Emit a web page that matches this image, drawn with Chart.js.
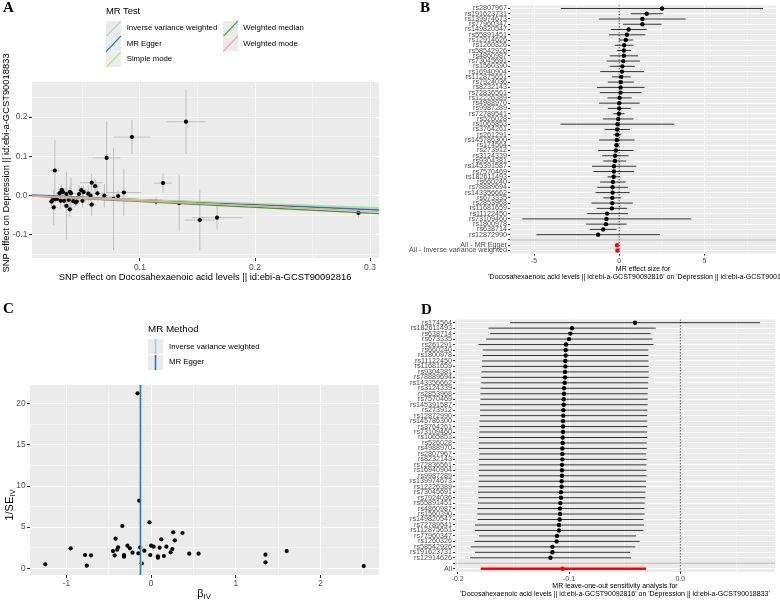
<!DOCTYPE html>
<html><head><meta charset="utf-8">
<script src="https://cdn.jsdelivr.net/npm/chart.js@4.4.1/dist/chart.umd.min.js"></script>
<style>
html,body{margin:0;padding:0;background:#fff;}
body{width:780px;height:602px;position:relative;overflow:hidden;font-family:'Liberation Sans',Arial,Helvetica,sans-serif;}
.panel{position:absolute;}
.panel canvas{display:block;}
.lab{position:absolute;font-family:'Liberation Serif','Times New Roman',serif;font-weight:bold;font-size:15px;line-height:15px;color:#000;}
.t{position:absolute;white-space:nowrap;color:#000;}
.key{position:absolute;}
sub{font-size:70%;vertical-align:-0.25em;line-height:0;}
</style></head>
<body>
<div class="panel" style="left:0;top:0;"><canvas id="cA" width="390" height="300"></canvas></div>
<div class="panel" style="left:390px;top:0;"><canvas id="cB" width="390" height="300"></canvas></div>
<div class="panel" style="left:0;top:300px;"><canvas id="cC" width="390" height="302"></canvas></div>
<div class="panel" style="left:390px;top:300px;"><canvas id="cD" width="390" height="302"></canvas></div>

<div class="lab" style="left:3px;top:0px;">A</div>
<div class="lab" style="left:420px;top:0px;">B</div>
<div class="lab" style="left:3px;top:301px;">C</div>
<div class="lab" style="left:421px;top:302px;">D</div>

<div class="t" style="left:106px;top:5px;font-size:9.4px;line-height:12px;">MR Test</div>
<div id="legA"></div>

<div class="t" style="left:205px;top:277px;font-size:9.4px;line-height:12px;transform:translate(-50%,-50%);">SNP effect on Docosahexaenoic acid levels || id:ebi-a-GCST90092816</div>
<div class="t" style="left:6px;top:163px;font-size:9.4px;line-height:12px;transform:translate(-50%,-50%) rotate(-90deg);">SNP effect on Depression || id:ebi-a-GCST90018833</div>

<div class="t" style="left:443px;top:265px;width:400px;text-align:center;font-size:7px;line-height:8px;">MR effect size for<br>'Docosahexaenoic acid levels || id:ebi-a-GCST90092816' on 'Depression || id:ebi-a-GCST90018833'</div>

<div class="t" style="left:148px;top:323px;font-size:9.8px;line-height:12px;">MR Method</div>
<div id="legC"></div>

<div class="t" style="left:204px;top:593px;font-size:11px;line-height:12px;transform:translate(-50%,-50%);">β<sub>IV</sub></div>
<div class="t" style="left:9px;top:505px;font-size:11px;line-height:12px;transform:translate(-50%,-50%) rotate(-90deg);">1/SE<sub>IV</sub></div>

<div class="t" style="left:415px;top:582px;width:400px;text-align:center;font-size:7px;line-height:8.3px;">MR leave-one-out sensitivity analysis for<br>'Docosahexaenoic acid levels || id:ebi-a-GCST90092816' on 'Depression || id:ebi-a-GCST90018833'</div>

<script>
// ================= DATA =================
// Panel A: SNP scatter (exposure effect vs outcome effect)
const aSnpExposure = [0.026,0.071,0.093,0.140,0.120,0.114,0.134,0.152,0.167,0.290,0.086,0.081,0.077,0.069,0.063,0.061,0.058,0.057,0.058,0.051,0.050,0.049,0.047,0.042,0.045,0.040,0.039,0.039,0.038,0.036,0.036,0.033,0.032,0.031,0.031,0.026,0.025,0.024,0.023,0.044,0.030,0.034,0.055,0.028];
const aSnpOutcome = [0.064,0.096,0.149,0.188,0.032,-0.015,-0.019,-0.062,-0.056,-0.044,0.008,-0.001,-0.008,0.000,0.006,0.024,0.033,0.000,-0.023,0.009,-0.013,0.014,0.004,-0.014,-0.015,0.006,0.010,-0.035,-0.011,-0.026,0.004,0.009,0.015,-0.013,0.008,-0.009,-0.030,-0.011,-0.015,-0.017,0.006,-0.013,0.005,-0.008];
const aSeExposure = [0.004,0.012,0.016,0.017,0.008,0.003,0.004,0.013,0.022,0.004,0.015,0.007,0.004,0.004,0.005,0.004,0.010,0.004,0.004,0.004,0.003,0.004,0.003,0.003,0.003,0.004,0.003,0.003,0.003,0.003,0.003,0.003,0.003,0.003,0.003,0.003,0.003,0.002,0.002,0.003,0.003,0.003,0.004,0.003];
const aSeOutcome = [0.078,0.092,0.043,0.082,0.024,0.012,0.072,0.077,0.030,0.012,0.060,0.015,0.130,0.030,0.020,0.016,0.022,0.012,0.028,0.014,0.018,0.010,0.022,0.010,0.012,0.040,0.014,0.018,0.012,0.087,0.016,0.010,0.012,0.020,0.008,0.010,0.045,0.008,0.012,0.012,0.012,0.010,0.020,0.008];
const aMethods = ['Inverse variance weighted','MR Egger','Simple mode','Weighted median','Weighted mode'];
const aMethodSlopes = [-0.105,-0.128,-0.099,-0.149,-0.132];
const aMethodIntercepts = [0,0.003,0,0,0];
const aXTicks = [0.1,0.2,0.3];
const aXTickLabels = ['0.1','0.2','0.3'];
const aXMinor = [0.05,0.15,0.25];
const aYTicks = [-0.1,0,0.1,0.2];
const aYTickLabels = ['-0.1','0.0','0.1','0.2'];
const aYMinor = [-0.15,-0.05,0.05,0.15,0.25];

// Panel B: single SNP forest plot
const bSnps = ['rs2807967','rs191623731','rs139974673','rs77960347','rs149820547','rs55891451','rs12914626','rs1260326','rs58542926','rs4860987','rs73045691','rs1560390','rs16940904','rs112875651','rs7924036','rs8232143','rs72836561','rs12226389','rs4988970','rs9987289','rs72789541','rs526028','rs1065853','rs3764261','rs261291','rs145786300','rs174564','rs273912','rs3124339','rs9304381','rs145391587','rs7570469','rs182611493','rs660240','rs78889694','rs143356662','rs673335','rs2853968','rs11681659','rs11122450','rs73109460','rs1800978','rs638714','rs12872990'];
const bEstimates = [2.51,1.61,1.36,1.36,0.55,0.45,0.39,0.29,0.27,0.27,0.24,0.18,0.16,0.12,0.10,0.08,0.08,0.02,0.00,0.00,-0.02,-0.06,-0.10,-0.12,-0.12,-0.14,-0.16,-0.20,-0.24,-0.25,-0.31,-0.31,-0.33,-0.37,-0.39,-0.39,-0.41,-0.41,-0.43,-0.71,-0.75,-0.78,-0.94,-1.24];
const bLower = [-3.43,0.67,-1.19,0.22,-0.49,-0.60,-0.04,-0.26,-0.14,-0.55,-0.74,-0.55,-1.12,-0.43,-0.67,-1.31,-1.14,-0.69,-1.18,-0.67,-0.35,-0.96,-3.45,-0.86,-0.35,-1.18,-0.31,-1.24,-1.00,-0.94,-1.60,-1.51,-0.69,-1.12,-1.29,-1.39,-0.94,-1.63,-1.33,-1.88,-5.69,-1.94,-1.73,-4.86];
const bUpper = [8.44,2.55,3.90,2.49,1.61,1.53,0.82,0.84,0.70,1.10,1.22,0.92,1.45,0.67,0.86,1.49,1.31,0.74,1.20,0.67,0.31,0.84,3.23,0.63,0.12,0.90,-0.02,0.84,0.55,0.41,1.00,0.88,0.02,0.37,0.51,0.61,0.12,0.80,0.47,0.51,4.22,0.43,-0.16,2.39];
const bSummaryMethods = ['All - MR Egger','All - Inverse variance weighted'];
const bSummaryEstimates = [-0.13,-0.105];
const bSummaryLower = [-0.22,-0.179];
const bSummaryUpper = [-0.04,-0.031];
const bXTicks = [-5,0,5];
const bXTickLabels = ['-5','0','5'];
const bXMinor = [-2.5,2.5,7.5];

// Panel C: funnel plot
const cBetaIV = [-0.16,-0.14,-0.02,-0.34,-0.42,0.26,0.37,0.12,0.28,-0.95,-0.39,-0.28,-0.25,-0.45,-0.40,-0.13,0.00,0.03,0.10,0.18,0.25,0.23,-0.08,-0.22,-0.15,-0.32,-0.32,-0.43,-0.01,0.08,0.08,0.15,0.45,0.56,-0.78,-0.71,-0.76,-1.25,-0.11,1.35,1.35,1.60,2.51];
const cInvSeIV = [21.26,8.22,5.59,5.14,3.60,4.37,4.29,3.52,3.40,2.43,2.55,2.75,2.43,2.10,2.27,2.55,2.75,2.63,2.51,2.63,2.35,1.94,2.15,1.90,1.82,1.62,1.42,1.58,1.62,1.46,1.30,1.50,1.78,1.78,1.62,1.58,0.32,0.49,0.61,1.66,0.73,2.10,0.28];
const cMethods = ['Inverse variance weighted','MR Egger'];
const cMethodBeta = [-0.117,-0.128];
const cXTicks = [-1,0,1,2];
const cXTickLabels = ['-1','0','1','2'];
const cXMinor = [-0.5,0.5,1.5,2.5];
const cYTicks = [0,5,10,15,20];
const cYTickLabels = ['0','5','10','15','20'];
const cYMinor = [2.5,7.5,12.5,17.5];

// Panel D: leave-one-out
const dSnps = ['rs174564','rs182611493','rs638714','rs673335','rs261291','rs660240','rs1800978','rs11122450','rs11681659','rs9304381','rs78889694','rs143356662','rs3124339','rs2853968','rs7570469','rs145391587','rs273912','rs12872990','rs145786300','rs3764261','rs73109460','rs1065853','rs526028','rs4988970','rs2807967','rs8232143','rs72836561','rs16940904','rs9987289','rs139974673','rs12226389','rs73045691','rs7924036','rs55891451','rs4860987','rs1560390','rs149820547','rs72789541','rs112875651','rs77960347','rs1260326','rs58542926','rs191623731','rs12914626'];
const dEstimates = [-0.0407,-0.0973,-0.0988,-0.1000,-0.1027,-0.1030,-0.1030,-0.1033,-0.1033,-0.1036,-0.1036,-0.1039,-0.1045,-0.1045,-0.1048,-0.1048,-0.1051,-0.1051,-0.1054,-0.1054,-0.1054,-0.1057,-0.1057,-0.1060,-0.1060,-0.1060,-0.1063,-0.1063,-0.1063,-0.1066,-0.1066,-0.1072,-0.1072,-0.1078,-0.1081,-0.1081,-0.1084,-0.1090,-0.1090,-0.1108,-0.1111,-0.1149,-0.1149,-0.1167];
const dLower = [-0.1530,-0.1724,-0.1709,-0.1745,-0.1814,-0.1775,-0.1775,-0.1781,-0.1781,-0.1787,-0.1787,-0.1787,-0.1796,-0.1796,-0.1796,-0.1799,-0.1799,-0.1799,-0.1805,-0.1805,-0.1805,-0.1808,-0.1811,-0.1811,-0.1805,-0.1808,-0.1808,-0.1811,-0.1808,-0.1811,-0.1814,-0.1817,-0.1814,-0.1817,-0.1823,-0.1823,-0.1820,-0.1844,-0.1844,-0.1808,-0.1850,-0.1883,-0.1844,-0.1889];
const dUpper = [0.0716,-0.0221,-0.0266,-0.0251,-0.0242,-0.0287,-0.0287,-0.0287,-0.0284,-0.0284,-0.0284,-0.0287,-0.0290,-0.0293,-0.0293,-0.0293,-0.0296,-0.0299,-0.0296,-0.0299,-0.0299,-0.0299,-0.0302,-0.0302,-0.0308,-0.0305,-0.0305,-0.0305,-0.0305,-0.0308,-0.0308,-0.0314,-0.0314,-0.0320,-0.0323,-0.0320,-0.0332,-0.0326,-0.0332,-0.0398,-0.0365,-0.0404,-0.0452,-0.0443];
const dAllLabel = ['All'];
const dAllEstimate = [-0.1057];
const dAllLower = [-0.1793];
const dAllUpper = [-0.0308];
const dXTicks = [-0.2,-0.1,0.0];
const dXTickLabels = ['-0.2','-0.1','0.0'];
const dXMinor = [-0.15,-0.05,0.05];

// ================= STYLE / HELPERS =================
const FONT = "'Liberation Sans', Arial, Helvetica, sans-serif";
Chart.defaults.font.family = FONT;
Chart.defaults.animation = false;
const methodColors = ['#a6cee3','#1f78b4','#b2df8a','#33a02c','#fb9a99'];

const panelBg = {
  id: 'panelBg',
  beforeDraw(chart) {
    const {ctx, chartArea: a} = chart;
    ctx.save(); ctx.fillStyle = '#EBEBEB'; ctx.fillRect(a.left, a.top, a.width, a.height); ctx.restore();
  }
};

const errorBars = {
  id: 'errorBars',
  beforeDatasetsDraw(chart) {
    const {ctx, chartArea: a, scales: {x, y}} = chart;
    ctx.save();
    ctx.beginPath(); ctx.rect(a.left, a.top, a.width, a.height); ctx.clip();
    chart.data.datasets.forEach(ds => {
      const e = ds.errorBars; if (!e) return;
      ctx.strokeStyle = e.color; ctx.lineWidth = e.width; ctx.lineCap = 'butt';
      ds.data.forEach((p, i) => {
        ctx.beginPath();
        if (e.ySe) {
          const xp = x.getPixelForValue(p.x);
          ctx.moveTo(xp, y.getPixelForValue(p.y - e.ySe[i]));
          ctx.lineTo(xp, y.getPixelForValue(p.y + e.ySe[i]));
        }
        if (e.xSe) {
          const yp = y.getPixelForValue(p.y);
          ctx.moveTo(x.getPixelForValue(p.x - e.xSe[i]), yp);
          ctx.lineTo(x.getPixelForValue(p.x + e.xSe[i]), yp);
        }
        if (e.xLo) {
          const yp = y.getPixelForValue(p.y);
          ctx.moveTo(x.getPixelForValue(e.xLo[i]), yp);
          ctx.lineTo(x.getPixelForValue(e.xHi[i]), yp);
        }
        ctx.stroke();
      });
    });
    ctx.restore();
  }
};

function near(list, v) { return list.findIndex(m => Math.abs(m - v) < 1e-9); }

function makeAxis(o) {
  return {
    type: 'linear', min: o.min, max: o.max, reverse: !!o.reverse,
    afterBuildTicks: s => { s.ticks = o.major.concat(o.minor || []).map(v => ({value: v})); },
    afterFit: s => { if (s.isHorizontal()) s.height = o.size; else s.width = o.size; },
    border: {display: false},
    grid: {
      color: '#FFFFFF',
      lineWidth: c => (c.tick && near(o.major, c.tick.value) >= 0) ? (o.gridW || 1) : 0.5,
      drawTicks: true,
      tickLength: o.tickLen,
      tickColor: c => (c.tick && near(o.major, c.tick.value) >= 0) ? '#333333' : 'rgba(0,0,0,0)',
      tickWidth: o.tickW || 1
    },
    ticks: {
      autoSkip: false, maxRotation: 0, minRotation: 0, padding: o.pad,
      color: '#4D4D4D', font: {size: o.fontSize, family: FONT},
      callback: v => { const i = near(o.major, v); return i >= 0 ? o.labels[i] : ''; }
    }
  };
}

const baseOpts = (padding) => ({
  responsive: false, animation: false, devicePixelRatio: 1,
  layout: {padding},
  plugins: {legend: {display: false}, tooltip: {enabled: false}, title: {display: false}}
});

// ================= PANEL A =================
(function () {
  const xMin = 0.0061, xMax = 0.3078;
  const pts = aSnpExposure.map((v, i) => ({x: v, y: aSnpOutcome[i]}));
  const lines = aMethods.map((m, i) => ({
    label: m, showLine: true, pointRadius: 0, borderColor: methodColors[i], borderWidth: 1.3,
    order: -i,
    data: [{x: xMin, y: aMethodIntercepts[i] + aMethodSlopes[i] * xMin}, {x: xMax, y: aMethodIntercepts[i] + aMethodSlopes[i] * xMax}]
  }));
  new Chart(document.getElementById('cA'), {
    type: 'scatter',
    data: {datasets: lines.concat([{
      label: 'SNPs', data: pts, order: 10,
      pointRadius: 2.1, pointBackgroundColor: '#000', pointBorderWidth: 0,
      errorBars: {xSe: aSeExposure, ySe: aSeOutcome, color: '#BEBEBE', width: 1}
    }])},
    options: Object.assign(baseOpts({left: 0, right: 11, top: 82, bottom: 0}), {
      scales: {
        x: makeAxis({min: xMin, max: xMax, major: aXTicks, minor: aXMinor, labels: aXTickLabels, size: 42, fontSize: 8.5, tickLen: 3, pad: 2}),
        y: makeAxis({min: -0.1585, max: 0.289, major: aYTicks, minor: aYMinor, labels: aYTickLabels, size: 32, fontSize: 8.5, tickLen: 3, pad: 1.5})
      }
    }),
    plugins: [panelBg, errorBars]
  });
})();

// ================= PANEL B =================
(function () {
  const rowLabels = bSnps.concat(['']).concat(bSummaryMethods);
  const n = rowLabels.length;
  const xMin = -6.41, xMax = 9.2;
  const snpPts = bEstimates.map((v, i) => ({x: v, y: i}));
  const sumPts = bSummaryEstimates.map((v, i) => ({x: v, y: bSnps.length + 1 + i}));
  new Chart(document.getElementById('cB'), {
    type: 'scatter',
    data: {datasets: [
      {label: 'summary', data: sumPts, order: 0, pointRadius: 2.2, pointBackgroundColor: '#FF0000', pointBorderWidth: 0,
       errorBars: {xLo: bSummaryLower, xHi: bSummaryUpper, color: '#FF0000', width: 1}},
      {label: 'snps', data: snpPts, order: 1, pointRadius: 2.2, pointBackgroundColor: '#000', pointBorderWidth: 0,
       errorBars: {xLo: bLower, xHi: bUpper, color: '#1a1a1a', width: 0.9}},
      {label: 'sep', showLine: true, pointRadius: 0, borderColor: '#B5B5B5', borderWidth: 1, order: 2,
       data: [{x: xMin, y: bSnps.length}, {x: xMax, y: bSnps.length}]},
      {label: 'zero', showLine: true, pointRadius: 0, borderColor: '#000', borderWidth: 1, borderDash: [1, 2], order: 3,
       data: [{x: 0, y: -0.6}, {x: 0, y: n - 0.4}]}
    ]},
    options: Object.assign(baseOpts({left: 0, right: 4, top: 1, bottom: 0}), {
      scales: {
        x: makeAxis({min: xMin, max: xMax, major: bXTicks, minor: bXMinor, labels: bXTickLabels, size: 46.4, fontSize: 7, tickLen: 2, pad: 1}),
        y: makeAxis({min: -0.6, max: n - 0.4, reverse: true, major: rowLabels.map((_, i) => i), minor: [], labels: rowLabels, size: 120, fontSize: 7.2, tickLen: 2, pad: 1})
      }
    }),
    plugins: [panelBg, errorBars]
  });
})();

// ================= PANEL C =================
(function () {
  const yMin = -0.81, yMax = 22.27;
  const pts = cBetaIV.map((v, i) => ({x: v, y: cInvSeIV[i]}));
  const vlines = cMethods.map((m, i) => ({
    label: m, showLine: true, pointRadius: 0, borderColor: methodColors[i], borderWidth: 1.3, order: -i,
    data: [{x: cMethodBeta[i], y: yMin}, {x: cMethodBeta[i], y: yMax}]
  }));
  new Chart(document.getElementById('cC'), {
    type: 'scatter',
    data: {datasets: vlines.concat([{label: 'SNPs', data: pts, order: 10, pointRadius: 2.1, pointBackgroundColor: '#000', pointBorderWidth: 0}])},
    options: Object.assign(baseOpts({left: 0, right: 11, top: 85, bottom: 0}), {
      scales: {
        x: makeAxis({min: -1.43, max: 2.69, major: cXTicks, minor: cXMinor, labels: cXTickLabels, size: 27, fontSize: 8.3, tickLen: 3, pad: 1}),
        y: makeAxis({min: yMin, max: yMax, major: cYTicks, minor: cYMinor, labels: cYTickLabels, size: 30, fontSize: 8.3, tickLen: 3, pad: 1.5})
      }
    }),
    plugins: [panelBg]
  });
})();

// ================= PANEL D =================
(function () {
  const rowLabels = dSnps.concat(['']).concat(dAllLabel);
  const n = rowLabels.length;
  const xMin = -0.2024, xMax = 0.085;
  const snpPts = dEstimates.map((v, i) => ({x: v, y: i}));
  const allPts = dAllEstimate.map((v, i) => ({x: v, y: dSnps.length + 1 + i}));
  new Chart(document.getElementById('cD'), {
    type: 'scatter',
    data: {datasets: [
      {label: 'All', data: allPts, order: 0, pointRadius: 2.2, pointBackgroundColor: '#FF0000', pointBorderWidth: 0,
       errorBars: {xLo: dAllLower, xHi: dAllUpper, color: '#FF0000', width: 2.6}},
      {label: 'snps', data: snpPts, order: 1, pointRadius: 2.2, pointBackgroundColor: '#000', pointBorderWidth: 0,
       errorBars: {xLo: dLower, xHi: dUpper, color: '#1a1a1a', width: 0.9}},
      {label: 'sep', showLine: true, pointRadius: 0, borderColor: '#B5B5B5', borderWidth: 1, order: 2,
       data: [{x: xMin, y: dSnps.length}, {x: xMax, y: dSnps.length}]},
      {label: 'zero', showLine: true, pointRadius: 0, borderColor: '#000', borderWidth: 1, borderDash: [1, 2], order: 3,
       data: [{x: 0, y: -0.6}, {x: 0, y: n - 0.4}]}
    ]},
    options: Object.assign(baseOpts({left: 0, right: 5, top: 19.4, bottom: 0}), {
      scales: {
        x: makeAxis({min: xMin, max: xMax, major: dXTicks, minor: dXMinor, labels: dXTickLabels, size: 30, fontSize: 7, tickLen: 2, pad: 0.5}),
        y: makeAxis({min: -0.6, max: n - 0.4, reverse: true, major: rowLabels.map((_, i) => i), minor: [], labels: rowLabels, size: 65, fontSize: 7.2, tickLen: 2, pad: 1})
      }
    }),
    plugins: [panelBg, errorBars]
  });
})();

// ================= LEGENDS (HTML keys) =================
(function () {
  const legA = document.getElementById('legA');
  const cols = [[0, 1, 2], [3, 4]];
  const colX = [106, 223], textX = [126.7, 243.3];
  const rowTop = [20.5, 36, 51.5];
  cols.forEach((col, ci) => col.forEach((mi, ri) => {
    const k = document.createElement('div');
    k.className = 'key';
    k.style.left = colX[ci] + 'px'; k.style.top = rowTop[ri] + 'px';
    k.innerHTML = `<svg width="15" height="15.5"><rect width="15" height="15.5" fill="#EBEBEB"/><line x1="0" y1="15.5" x2="15" y2="0" stroke="${methodColors[mi]}" stroke-width="1.2"/></svg>`;
    legA.appendChild(k);
    const t = document.createElement('div');
    t.className = 't';
    t.style.left = textX[ci] + 'px'; t.style.top = (rowTop[ri] + 7.75 - 5) + 'px';
    t.style.fontSize = '7.8px'; t.style.lineHeight = '10px';
    t.textContent = aMethods[mi];
    legA.appendChild(t);
  }));
  const legC = document.getElementById('legC');
  const cTop = [339.3, 354.5];
  cMethods.forEach((m, i) => {
    const k = document.createElement('div');
    k.className = 'key';
    k.style.left = '148.3px'; k.style.top = cTop[i] + 'px';
    k.innerHTML = `<svg width="15" height="15.2"><rect width="15" height="15.2" fill="#EBEBEB"/><line x1="7.5" y1="0" x2="7.5" y2="15.2" stroke="${methodColors[i]}" stroke-width="1.6"/></svg>`;
    legC.appendChild(k);
    const t = document.createElement('div');
    t.className = 't';
    t.style.left = '169px'; t.style.top = (cTop[i] + 7.6 - 5) + 'px';
    t.style.fontSize = '7.8px'; t.style.lineHeight = '10px';
    t.textContent = m;
    legC.appendChild(t);
  });
})();
</script>
</body></html>
